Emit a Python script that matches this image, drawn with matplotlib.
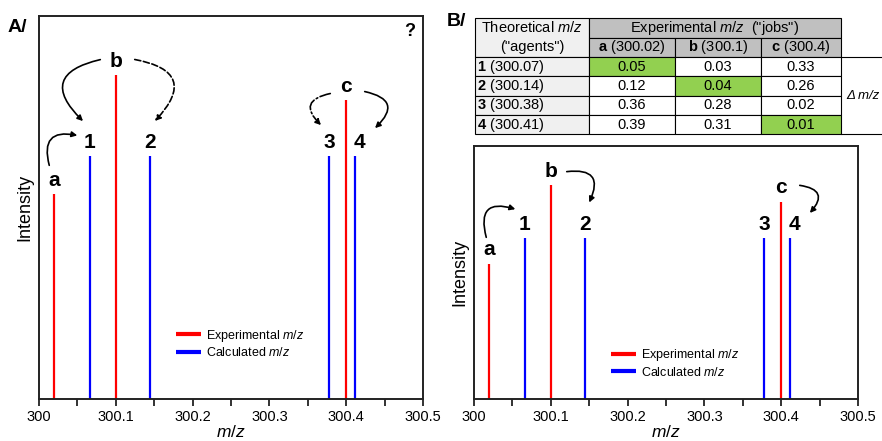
import matplotlib.pyplot as plt
from matplotlib.patches import Rectangle, FancyArrowPatch
from matplotlib.ticker import MultipleLocator, FuncFormatter

plt.rcParams['font.family'] = ['Liberation Sans', 'DejaVu Sans']
plt.rcParams['mathtext.fontset'] = 'custom'
plt.rcParams['mathtext.rm'] = 'Liberation Sans'
plt.rcParams['mathtext.it'] = 'Liberation Sans:italic'
plt.rcParams['mathtext.bf'] = 'Liberation Sans:bold'

# peaks
exp_labels = ['a', 'b', 'c']
exp_mz = [300.02, 300.1, 300.4]
exp_int = [0.535, 0.846, 0.78]

calc_labels = ['1', '2', '3', '4']
calc_mz = [300.066, 300.144, 300.378, 300.412]
calc_int = [0.635, 0.635, 0.635, 0.635]

# assignment table
agent_ids = ['1', '2', '3', '4']
agent_mz = ['300.07', '300.14', '300.38', '300.41']
job_ids = ['a', 'b', 'c']
job_mz = ['300.02', '300.1', '300.4']
delta_mz = [[0.05, 0.03, 0.33],
            [0.12, 0.04, 0.26],
            [0.36, 0.28, 0.02],
            [0.39, 0.31, 0.01]]
best_cells = [(0, 0), (1, 1), (3, 2)]

RED = '#ff0000'
BLUE = '#0000ff'
W, H = 882, 441


def spectrum(ax, legend_y):
    ax.vlines(exp_mz, 0, exp_int, color=RED, lw=1.6, label='Experimental $m/z$')
    ax.vlines(calc_mz, 0, calc_int, color=BLUE, lw=1.6, label='Calculated $m/z$')
    for lab, x, y in zip(exp_labels + calc_labels, exp_mz + calc_mz, exp_int + calc_int):
        dx = 3 if lab == '4' else 0
        ax.annotate(lab, (x, y), xytext=(dx, 3), textcoords='offset points',
                    ha='center', va='bottom', fontsize=15, fontweight='bold')
    ax.set_xlim(300, 300.5)
    ax.set_ylim(0, 1)
    ax.set_yticks([])
    ax.xaxis.set_major_locator(MultipleLocator(0.1))
    ax.xaxis.set_minor_locator(MultipleLocator(0.05))
    ax.xaxis.set_major_formatter(FuncFormatter(lambda v, p: '{:g}'.format(round(v, 2))))
    ax.tick_params(axis='x', which='both', direction='out', length=5, width=1.3,
                   color='#222222', labelsize=10.5, pad=3)
    for s in ax.spines.values():
        s.set_linewidth(1.4)
        s.set_color('#222222')
    ax.set_xlabel('$m/z$', fontsize=12.5, labelpad=0)
    ax.set_ylabel('Intensity', fontsize=13, labelpad=4)
    leg = ax.legend(loc='center', bbox_to_anchor=(0.525, legend_y), frameon=False,
                    fontsize=9, handlelength=2.0, handletextpad=0.4, labelspacing=0.2)
    for h in leg.legend_handles:
        h.set_linewidth(3)


def arrow(fig, start, end, rad, ls='-'):
    fig.add_artist(FancyArrowPatch(
        (start[0] / W, 1 - start[1] / H), (end[0] / W, 1 - end[1] / H),
        transform=fig.transFigure, arrowstyle='-|>', mutation_scale=8,
        connectionstyle='arc3,rad=%g' % rad, lw=1.2, ls=ls, color='black'))


fig = plt.figure(figsize=(8.82, 4.41), dpi=100)

axA = fig.add_axes([39 / W, 42 / H, 384 / W, 383 / H])
spectrum(axA, 0.145)
axB = fig.add_axes([474 / W, 42 / H, 384 / W, 253 / H])
spectrum(axB, 0.142)

fig.text(8 / W, 1 - 27 / H, 'A/', fontsize=14, fontweight='bold', va='center')
fig.text(447 / W, 1 - 22 / H, 'B/', fontsize=14, fontweight='bold', va='center')
fig.text(410 / W, 1 - 31 / H, '?', fontsize=13, fontweight='bold', ha='center', va='center')

# arrows, panel A (pixel positions, y from top)
arrow(fig, (50, 168), (80, 136), -0.85)
arrow(fig, (103, 59), (85, 123), 0.95)
arrow(fig, (132, 59), (153, 123), -0.95, '--')
arrow(fig, (333, 93), (323, 127), 1.0, '-.')
arrow(fig, (362, 91), (373, 130), -1.0)
# arrows, panel B
arrow(fig, (487, 240), (518, 210), -0.95)
arrow(fig, (564, 172), (588, 205), -0.95)
arrow(fig, (797, 185), (808, 215), -1.0)

# table drawn in pixel space
tab = fig.add_axes([0, 0, 1, 1])
tab.set_xlim(0, W)
tab.set_ylim(H, 0)
tab.axis('off')
cols = [475, 589, 675, 761, 841]
rows = [18, 38, 57, 76.3, 95.6, 114.9, 134.2]
fs = 10.5


def cell(x0, y0, x1, y1, color):
    tab.add_patch(Rectangle((x0, y0), x1 - x0, y1 - y0, facecolor=color,
                            edgecolor='black', lw=0.8))


cell(cols[0], rows[0], cols[1], rows[2], '#f0f0f0')
tab.text((cols[0] + cols[1]) / 2, 28, 'Theoretical $m/z$', fontsize=fs, ha='center', va='center')
tab.text((cols[0] + cols[1]) / 2, 47.5, '("agents")', fontsize=fs, ha='center', va='center')
cell(cols[1], rows[0], cols[4], rows[1], '#c0c0c0')
tab.text((cols[1] + cols[4]) / 2, 28, 'Experimental $m/z$  ("jobs")', fontsize=fs,
         ha='center', va='center')
for j, (jid, jmz) in enumerate(zip(job_ids, job_mz)):
    cell(cols[j + 1], rows[1], cols[j + 2], rows[2], '#c0c0c0')
    tab.text((cols[j + 1] + cols[j + 2]) / 2, (rows[1] + rows[2]) / 2,
             r'$\mathbf{%s}$ (%s)' % (jid, jmz), fontsize=fs, ha='center', va='center')
for i, (aid, amz) in enumerate(zip(agent_ids, agent_mz)):
    y0, y1 = rows[i + 2], rows[i + 3]
    cell(cols[0], y0, cols[1], y1, '#f0f0f0')
    tab.text(cols[0] + 2, (y0 + y1) / 2, r'$\mathbf{%s}$ (%s)' % (aid, amz),
             fontsize=fs, ha='left', va='center')
    for j in range(3):
        color = '#92d050' if (i, j) in best_cells else 'white'
        cell(cols[j + 1], y0, cols[j + 2], y1, color)
        tab.text((cols[j + 1] + cols[j + 2]) / 2, (y0 + y1) / 2, '%.2f' % delta_mz[i][j],
                 fontsize=fs, ha='center', va='center')
tab.plot([cols[4], W], [rows[2], rows[2]], color='black', lw=0.8)
tab.plot([cols[4], W], [rows[6], rows[6]], color='black', lw=0.8)
tab.text(W - 2, (rows[2] + rows[6]) / 2, 'Δ m/z', fontsize=9.5, style='italic',
         ha='right', va='center')

fig.savefig('out.png', dpi=100)
